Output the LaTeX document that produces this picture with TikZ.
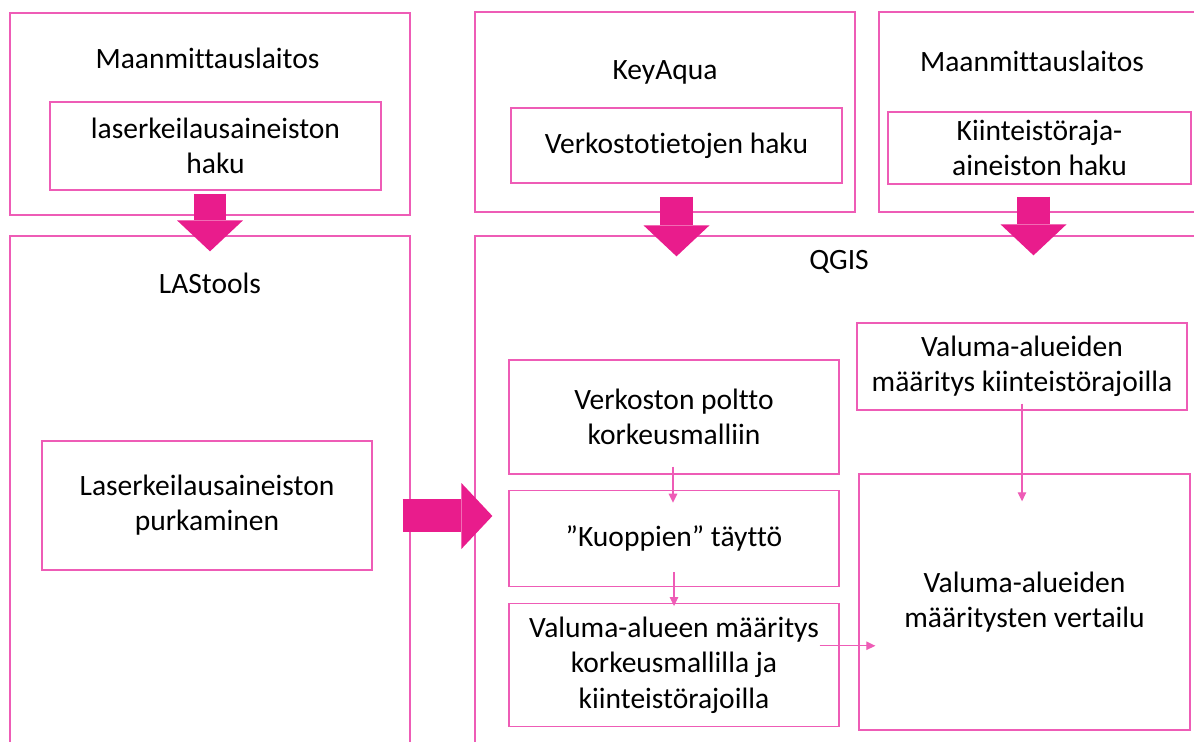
\documentclass[tikz,border=0pt]{standalone}
\usepackage{fontspec}
\setmainfont{Carlito}[Ligatures=NoCommon]
\usetikzlibrary{positioning,arrows.meta,calc}
\definecolor{pinkline}{RGB}{238,92,182}
\definecolor{pinkarrow}{RGB}{233,28,140}

\begin{document}
\begin{tikzpicture}[
  x=0.02cm, y=-0.02cm,
  font=\fontsize{16.8}{20}\selectfont,
  grp/.style={draw=pinkline, line width=0.8pt, inner sep=0pt},
  task/.style={draw=pinkline, line width=0.8pt, align=center, inner sep=0pt,
               minimum width=6.6cm, fill=white},
  ttl/.style={inner sep=0pt},
  flow/.style={-{Triangle[length=1.8mm,width=1.7mm]}, draw=pinkline, line width=0.7pt},
  bigarr/.style={draw=pinkarrow, line width=0.66cm,
                 -{Triangle[length=0.62cm,width=1.32cm,line width=0pt]}},
  node distance=0.3cm,
]
\clip (0,0) rectangle (1194,742);

% ---- data sources (top row) ----
\node[grp, minimum width=8cm, minimum height=4.04cm] (src1) at (210,114) {};
\node[ttl] (src1 t) at (207.5,58) {Maanmittauslaitos};
\node[task, minimum width=6.62cm, minimum height=1.76cm] (get1) at (215.5,146)
  {laserkeilausaineiston\\haku};

\node[grp, minimum width=7.6cm, minimum height=4cm] (src2) at (665,112) {};
\node[ttl] (src2 t) at (665,72) {KeyAqua};
\node[task, minimum width=6.62cm, minimum height=1.5cm] (get2) at (676.5,145.5)
  {Verkostotietojen haku};

\node[grp, minimum width=6.62cm, minimum height=4cm] (src3) at (1044.5,112) {};
\node[ttl] (src3 t) at (1032,61) {Maanmittauslaitos};
\node[task, minimum width=6.06cm, minimum height=1.44cm] (get3) at (1039.5,148)
  {Kiinteistöraja-\\aineiston haku};

% ---- tools (bottom row) ----
\node[grp, minimum width=8cm, minimum height=11.28cm] (las) at (210,518) {};
\node[ttl] (las t) at (210,283) {LAStools};
\node[task, minimum height=2.58cm] (unpack) at (207,505.5)
  {Laserkeilausaineiston\\purkaminen};

\node[grp, minimum width=15.5cm, minimum height=11.28cm] (qgis) at (862.5,518) {};
\node[ttl] (qgis t) at (839,262) {QGIS};

\node[task, minimum height=2.28cm] (burn) at (674,417)
  {Verkoston poltto\\korkeusmalliin};
\node[task, minimum height=1.92cm, below=0.3cm of burn] (fill)
  {”Kuoppien” täyttö};
\node[task, minimum height=2.46cm, below=0.32cm of fill] (dem)
  {Valuma-alueen määritys\\korkeusmallilla ja\\kiinteistörajoilla};
\node[task, minimum height=1.74cm] (prop) at (1022,366.5)
  {Valuma-alueiden\\määritys kiinteistörajoilla};
\node[task, minimum width=6.62cm, minimum height=5.12cm] (cmp) at (1024.5,602)
  {Valuma-alueiden\\määritysten vertailu};

% ---- block arrows between groups ----
\draw[bigarr] ($(src1.south)+(0,-22)$) -- ($(las.north)+(0,16)$);
\draw[bigarr] ($(get2.south)+(0,13)$) -- ($(get2.south |- qgis.north)+(0,21)$);
\draw[bigarr] ($(get3.south)+(-6,12)$) -- ($(get3.south |- qgis.north)+(-6,20)$);
\draw[bigarr] ($(unpack.east)+(30,10.5)$) -- ($(unpack.east -| qgis.west)+(18,10.5)$);

% ---- steps inside QGIS ----
\draw[flow] ($(burn.south)+(-1,-8)$) -- ($(fill.north)+(-1,13)$);
\draw[flow] ($(fill.south)+(0,-15)$) -- ($(dem.north)+(0,3)$);
\draw[flow] ($(prop.south)+(0,-7)$) -- ($(prop.south |- cmp.north)+(0,28)$);
\draw[flow] ($(dem.east)+(-20,-19.5)$) -- ($(cmp.west |- dem.east)+(17,-19.5)$);
\end{tikzpicture}
\end{document}
